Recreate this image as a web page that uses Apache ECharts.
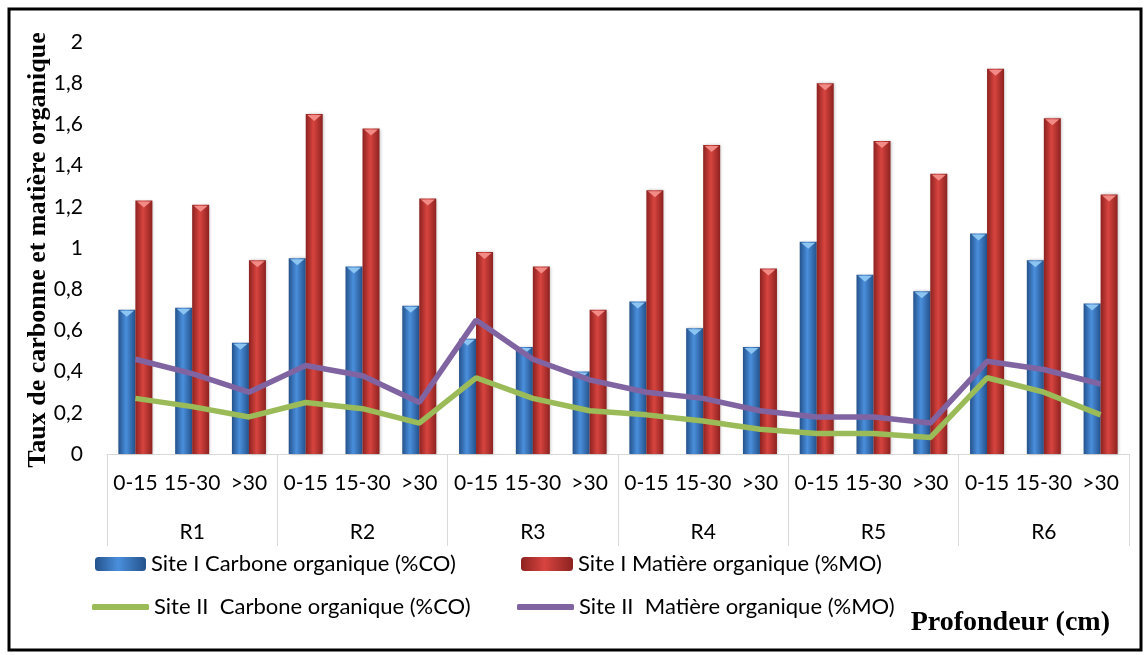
<!DOCTYPE html>
<html>
<head>
<meta charset="utf-8">
<script src="https://cdn.jsdelivr.net/npm/echarts@6/dist/echarts.min.js"></script>
<style>
  html, body { margin: 0; padding: 0; background: #fff; }
  #chart { width: 1145px; height: 655px; }
</style>
</head>
<body>
<div id="chart"></div>
<script>
// depth classes repeated for every site R1..R6
const depths = ['0-15', '15-30', '>30'];
const sites = ['R1', 'R2', 'R3', 'R4', 'R5', 'R6'];
const yTicks = [0, 0.2, 0.4, 0.6, 0.8, 1, 1.2, 1.4, 1.6, 1.8, 2];

const site1CO = [0.70, 0.71, 0.54, 0.95, 0.91, 0.72, 0.56, 0.52, 0.40, 0.74, 0.61, 0.52, 1.03, 0.87, 0.79, 1.07, 0.94, 0.73];
const site1MO = [1.23, 1.21, 0.94, 1.65, 1.58, 1.24, 0.98, 0.91, 0.70, 1.28, 1.50, 0.90, 1.80, 1.52, 1.36, 1.87, 1.63, 1.26];
const site2CO = [0.27, 0.23, 0.18, 0.25, 0.22, 0.15, 0.37, 0.27, 0.21, 0.19, 0.16, 0.12, 0.10, 0.10, 0.08, 0.37, 0.30, 0.19];
const site2MO = [0.46, 0.39, 0.30, 0.43, 0.38, 0.25, 0.65, 0.46, 0.36, 0.30, 0.27, 0.21, 0.18, 0.18, 0.15, 0.45, 0.41, 0.34];

const names = [
  'Site I Carbone organique (%CO)',
  'Site I Matière organique (%MO)',
  'Site II  Carbone organique (%CO)',
  'Site II  Matière organique (%MO)'
];

const depthLabels = [];
sites.forEach(() => depths.forEach(d => depthLabels.push(d)));

const font = 'Lato, "Open Sans", sans-serif';
const serif = '"Liberation Serif", "DejaVu Serif", serif';
const BAR_W = 17;

function cylinder(edge, mid) {
  return new echarts.graphic.LinearGradient(0, 0, 1, 0, [
    { offset: 0, color: edge },
    { offset: 0.45, color: mid },
    { offset: 1, color: edge }
  ]);
}

// light bevel triangle on top of each bar, placed through the axes
function capSeries(values, side, color) {
  return {
    type: 'custom',
    data: values.map((v, i) => [i, v]),
    z: 3,
    silent: true,
    renderItem: function (params, api) {
      const p = api.coord([api.value(0), api.value(1)]);
      const cx = p[0] + side * BAR_W / 2;
      const y = p[1];
      return {
        type: 'polygon',
        shape: { points: [[cx - 7, y + 1], [cx + 7, y + 1], [cx, y + 7]] },
        style: { fill: color }
      };
    }
  };
}

const chart = echarts.init(document.getElementById('chart'));

const legendBase = {
  orient: 'horizontal',
  padding: 0,
  itemHeight: 14,
  textStyle: { fontFamily: font, fontSize: 22, color: '#000' },
  selectedMode: false
};

chart.setOption({
  animation: false,
  grid: { left: 107, right: 16, top: 42, bottom: 201 },
  legend: [
    Object.assign({}, legendBase, { data: [names[0]], left: 95, top: 553, itemWidth: 51 }),
    Object.assign({}, legendBase, { data: [names[1]], left: 521, top: 553, itemWidth: 52 }),
    Object.assign({}, legendBase, { data: [{ name: names[2], icon: 'roundRect' }], left: 92, top: 596, itemWidth: 57, itemHeight: 6 }),
    Object.assign({}, legendBase, { data: [{ name: names[3], icon: 'roundRect' }], left: 517, top: 596, itemWidth: 57, itemHeight: 6 })
  ],
  xAxis: [
    {
      type: 'category',
      data: depthLabels,
      axisLine: { lineStyle: { color: '#d9d9d9', width: 1 } },
      axisTick: { show: false },
      axisLabel: { interval: 0, margin: 19, fontFamily: font, fontSize: 21, color: '#000' }
    },
    {
      type: 'category',
      position: 'bottom',
      data: sites,
      axisLine: { lineStyle: { color: '#d9d9d9', width: 1 } },
      axisTick: { show: true, interval: 0, length: 92, lineStyle: { color: '#d9d9d9', width: 1 } },
      axisLabel: { interval: 0, margin: 68, fontFamily: font, fontSize: 21, color: '#000' }
    }
  ],
  yAxis: {
    type: 'value',
    min: yTicks[0],
    max: yTicks[yTicks.length - 1],
    interval: 0.2,
    axisLine: { show: false },
    axisTick: { show: false },
    splitLine: { show: false },
    axisLabel: {
      margin: 24,
      fontFamily: font,
      fontSize: 21,
      color: '#000',
      formatter: v => String(Math.round(v * 10) / 10).replace('.', ',')
    }
  },
  series: [
    {
      name: names[0],
      type: 'bar',
      data: site1CO,
      barWidth: BAR_W,
      barGap: '0%',
      itemStyle: {
        color: cylinder('#24528c', '#4a8fdc'),
        shadowColor: 'rgba(0,0,0,0.25)', shadowBlur: 3, shadowOffsetX: 1
      }
    },
    {
      name: names[1],
      type: 'bar',
      data: site1MO,
      barWidth: BAR_W,
      barGap: '0%',
      itemStyle: {
        color: cylinder('#8c2220', '#d8443f'),
        shadowColor: 'rgba(0,0,0,0.25)', shadowBlur: 3, shadowOffsetX: 1
      }
    },
    capSeries(site1CO, -1, '#8cc4f2'),
    capSeries(site1MO, 1, '#f28a86'),
    {
      name: names[2],
      type: 'line',
      data: site2CO,
      symbol: 'none',
      color: '#9bbb59',
      lineStyle: { width: 5.5, color: '#9bbb59' },
      z: 5
    },
    {
      name: names[3],
      type: 'line',
      data: site2MO,
      symbol: 'none',
      color: '#8064a2',
      lineStyle: { width: 5.5, color: '#8064a2' },
      z: 5
    }
  ],
  graphic: [
    {
      type: 'rect',
      shape: { x: 9, y: 9, width: 1132, height: 641 },
      style: { fill: 'none', stroke: '#000', lineWidth: 3 },
      silent: true
    },
    {
      type: 'text',
      x: 38, y: 250,
      rotation: Math.PI / 2,
      style: {
        text: 'Taux de carbonne et matière organique',
        font: 'bold 26px ' + serif,
        fill: '#000',
        textAlign: 'center',
        textVerticalAlign: 'middle'
      }
    },
    {
      type: 'text',
      right: 35, top: 609,
      style: {
        text: 'Profondeur (cm)',
        font: 'bold 28px ' + serif,
        fill: '#000'
      }
    }
  ]
});
</script>
</body>
</html>
